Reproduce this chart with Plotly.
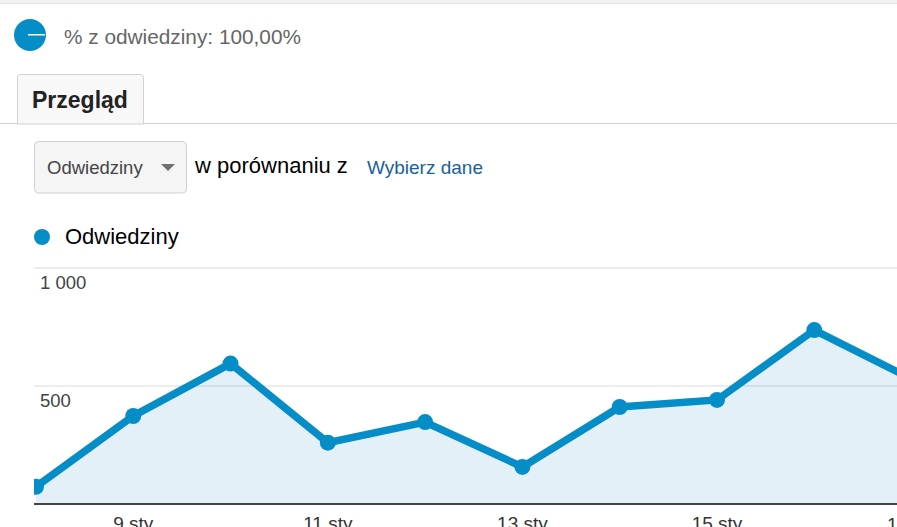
import plotly.graph_objects as go

days = [8, 9, 10, 11, 12, 13, 14, 15, 16, 17]
visits = [73, 373, 595, 260, 347, 157, 411, 441, 737, 530]
x_tick_days = [9, 11, 13, 15]
x_tick_labels = ["9 sty", "11 sty", "13 sty", "15 sty"]
y_ticks = [0, 500, 1000]
y_tick_labels = ["", "500", "1 000"]

W, H = 897, 527
L, R, T, B = 34, 897, 266, 503
BLUE = "#058dc7"
FONT = "Liberation Sans, Arial, sans-serif"

def px(x):
    return (x - L) / (R - L)

def py(y):
    return (B - y) / (B - T)

def rounded(x0, y0, x1, y1, r, open_bottom=False):
    a, b, c, d = px(x0), px(x1), py(y0), py(y1)
    rx, ry = r / (R - L), r / (B - T)
    if open_bottom:
        return (f"M{a},{d} L{a},{c-ry} Q{a},{c} {a+rx},{c} L{b-rx},{c} Q{b},{c} {b},{c-ry} L{b},{d}")
    return (f"M{a+rx},{c} L{b-rx},{c} Q{b},{c} {b},{c-ry} L{b},{d+ry} Q{b},{d} {b-rx},{d} "
            f"L{a+rx},{d} Q{a},{d} {a},{d+ry} L{a},{c-ry} Q{a},{c} {a+rx},{c} Z")

def rect(x0, y0, x1, y1, color):
    return dict(type="rect", xref="paper", yref="paper", x0=px(x0), x1=px(x1),
                y0=py(y0), y1=py(y1), fillcolor=color, line_width=0, layer="below")

def label(x, y, text, size, color, bold=False):
    t = f"<b>{text}</b>" if bold else text
    return dict(xref="paper", yref="paper", x=px(x), y=py(y), text=t, showarrow=False,
                xanchor="left", yanchor="middle", align="left", xshift=-1,
                font=dict(family=FONT, size=size, color=color))

fig = go.Figure(go.Scatter(
    x=days, y=visits, mode="lines+markers",
    line=dict(color=BLUE, width=7.5),
    marker=dict(color=BLUE, size=16),
    fill="tozeroy", fillcolor="rgba(5,120,180,0.11)",
    name="Odwiedziny", hoverinfo="skip",
))

shapes = [
    rect(0, 0, W, 3, "#f2f2f2"),
    rect(0, 3, W, 4, "#e4e4e4"),
    dict(type="circle", xref="paper", yref="paper", x0=px(14), x1=px(46), y0=py(19), y1=py(51),
         fillcolor=BLUE, line_width=0),
    rect(28, 34, 45, 35.5, "#ffffff") | {"layer": "above"},
    dict(type="line", xref="paper", yref="paper", x0=px(0), x1=px(W), y0=py(123.5), y1=py(123.5),
         line=dict(color="#cfcfcf", width=1)),
    dict(type="path", xref="paper", yref="paper", path=rounded(17.5, 74.5, 143.5, 124, 3, True) + " Z",
         fillcolor="#f8f8f8", line=dict(color="#d2d2d2", width=1)),
    dict(type="path", xref="paper", yref="paper", path=rounded(34.5, 141.5, 186.5, 193, 4),
         fillcolor="#f5f5f5", line=dict(color="#d0d0d0", width=1)),
    dict(type="path", xref="paper", yref="paper",
         path=f"M{px(161)},{py(164)} L{px(175)},{py(164)} L{px(168)},{py(171)} Z",
         fillcolor="#707070", line_width=0),
    dict(type="circle", xref="paper", yref="paper", x0=px(34), x1=px(50), y0=py(229), y1=py(245),
         fillcolor=BLUE, line_width=0),
]

annotations = [
    label(63, 36, "% z odwiedziny: 100,00%", 20.8, "#666666"),
    label(31, 100, "Przegląd", 23, "#222222", bold=True),
    label(46, 167, "Odwiedziny", 18.5, "#444444"),
    label(193, 165, "w porównaniu z", 22, "#000000"),
    label(366, 167, "Wybierz dane", 19, "#1a6198"),
    label(64, 236, "Odwiedziny", 22, "#000000"),
    dict(xref="paper", yref="paper", x=px(912), y=py(524), text="17 sty", showarrow=False,
         xanchor="center", yanchor="middle", font=dict(family=FONT, size=19, color="#333333")),
]

fig.update_layout(
    width=W, height=H, autosize=False,
    margin=dict(l=L, r=W - R, t=T, b=H - B, pad=0),
    paper_bgcolor="white", plot_bgcolor="white",
    showlegend=False, shapes=shapes, annotations=annotations,
    font=dict(family=FONT),
    xaxis=dict(range=[7.98, 16.85], tickmode="array", tickvals=x_tick_days, ticktext=x_tick_labels,
               showgrid=False, zeroline=False, showline=True, linecolor="#444444", linewidth=2,
               ticks="", ticklabelstandoff=2, tickfont=dict(size=19, color="#333333"), automargin=False),
    yaxis=dict(range=[4.24, 1008.5], tickmode="array", tickvals=y_ticks, ticktext=y_tick_labels,
               showgrid=True, gridcolor="#ececec", gridwidth=1.5, zeroline=False, showline=False,
               ticks="", ticklabelposition="inside", ticklabelshift=15, ticklabelstandoff=3,
               tickfont=dict(size=18.5, color="#444444"), automargin=False),
)

fig.write_html("out.html", config={"displayModeBar": False},
               post_script="document.body.style.margin='0';document.body.style.overflow='hidden';")
